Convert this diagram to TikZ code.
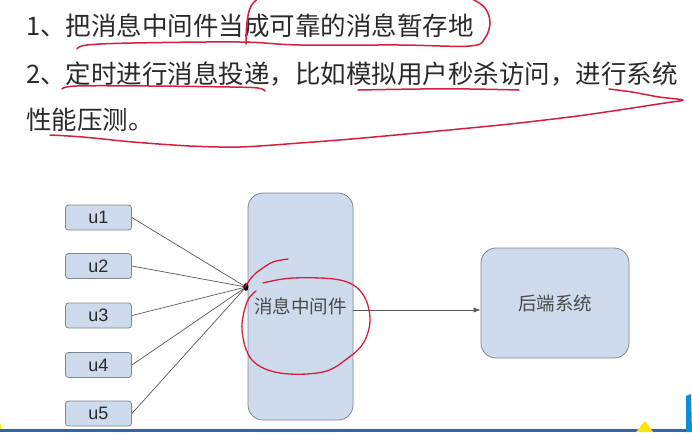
\documentclass[tikz,border=0pt]{standalone}
\usepackage{fontspec}
\setmainfont{Liberation Sans}
\newfontfamily\cjk{Noto Sans CJK SC}
\usetikzlibrary{arrows.meta}
\definecolor{boxfill}{HTML}{CEDBEC}
\definecolor{boxline}{HTML}{7D8794}
\definecolor{ink}{HTML}{D41F3F}
\definecolor{txt}{HTML}{2A2A2A}
\definecolor{barblue}{HTML}{2F66A8}
\begin{document}
\begin{tikzpicture}[x=1pt,y=-1pt,
  ubox/.style={draw=boxline, fill=boxfill, rounded corners=3pt, minimum width=66pt, minimum height=25pt, inner sep=0pt, font=\fontsize{18}{18}\selectfont, text=txt, line width=0.8pt},
  bigbox/.style={draw=boxline, fill=boxfill, rounded corners=15pt, inner sep=0pt, line width=0.8pt, font=\cjk\fontsize{18.5}{20}\selectfont, text=txt!85},
  line/.style={anchor=west, inner sep=0pt, text=txt, font=\cjk\fontsize{25.5}{30}\selectfont},
  link/.style={draw=black!65, line width=0.7pt},
  redink/.style={draw=ink, line width=1.5pt, line cap=round, line join=round}]
\useasboundingbox (0,0) rectangle (692,432);
\fill[white] (0,0) rectangle (692,432);

% text lines
\node[line] (t1) at (26,26) {1、把消息中间件当成可靠的消息暂存地};
\node[line] (t2) at (26,74) {2、定时进行消息投递，比如模拟用户秒杀访问，进行系统};
\node[line] (t3) at (26,120) {性能压测。};

% boxes
\node[ubox] (u1) at (98.5,217.5) {u1};
\node[ubox] (u2) at (98.5,266) {u2};
\node[ubox] (u3) at (98.5,315.5) {u3};
\node[ubox] (u4) at (98.5,365) {u4};
\node[ubox] (u5) at (98.5,413.5) {u5};
\node[bigbox, minimum width=105pt, minimum height=227pt] (mw) at (300.5,306.5) {消息中间件};
\node[bigbox, minimum width=148pt, minimum height=110pt] (be) at (555,303) {后端系统};

\coordinate (hub) at (246,287);
\foreach \i in {1,...,5} \draw[link] (u\i.east) -- (hub);
\fill[black] (hub) ellipse (2.4 and 4);
\coordinate (a) at ([yshift=-3.5pt]mw.east);
\draw[link, -{Latex[length=7pt,width=5pt]}] (a) -- (a -| be.west);

% red annotations
\draw[redink] plot[smooth, tension=0.6] coordinates {(77,49) (87,45) (133,43) (240,42) (300,45) (400,45) (470,46) (485,38) (490,22) (485,8) (474,0) (466,-3)};
\draw[redink] plot[smooth, tension=0.6] coordinates {(246,44) (247,22) (251,6) (260,-3)};
\draw[redink] plot[smooth, tension=0.6] coordinates {(62,89) (77,86) (150,86) (230,87) (258,88) (265,91)};
\draw[redink] plot[smooth, tension=0.6] coordinates {(358,90) (420,89) (470,89) (519,90)};
\draw[redink] plot[smooth, tension=0.5] coordinates {(50,135) (83,137) (133,142) (190,146) (240,147) (300,143) (363,138) (470,128) (519,123) (585,115) (665,103) (683,100) (659,97) (632,92) (609,89)};
\draw[redink, line width=1.3pt] plot[smooth, tension=0.6] coordinates {(245,287) (252,277) (260,270) (273,262) (288,259)};
\draw[redink, line width=1.3pt] plot[smooth, tension=0.6] coordinates {(263,283) (293,278) (340,280) (362,293) (370,318) (364,342) (348,358) (323,372) (280,373) (252,360) (242,330) (247,302) (256,291)};

% slide decorations
\fill[barblue] (0,428.5) rectangle (692,432);
\fill[yellow!85!orange] (636,432) -- (645,421) -- (653,432) -- cycle;
\fill[cyan!75!blue] (686,396) -- (691,394) -- (692,432) -- (686,432) -- cycle;
\fill[yellow!85!orange] (0,423) -- (2,428.5) -- (0,428.5) -- cycle;
\end{tikzpicture}
\end{document}
